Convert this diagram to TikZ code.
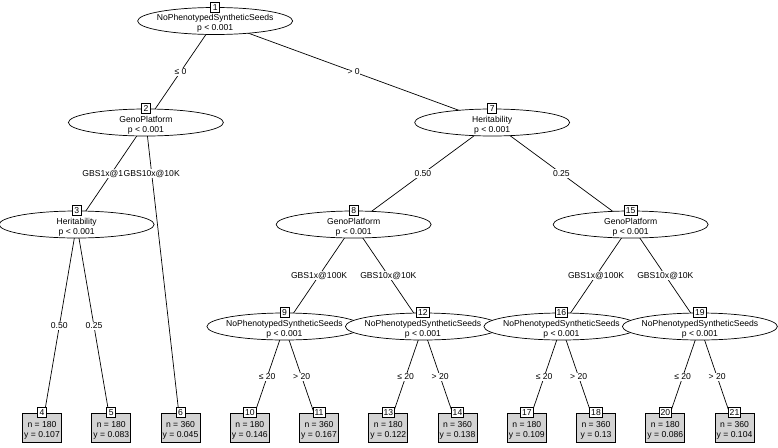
\documentclass[tikz,border=0pt]{standalone}
\usepackage{fontspec}
\setmainfont{Liberation Sans}
\usetikzlibrary{shapes.geometric,backgrounds}
\definecolor{termgray}{RGB}{211,211,211}
\begin{document}
\begin{tikzpicture}[x=1pt,y=-1pt,
  font=\fontsize{8.6}{10}\selectfont,
  ell/.style={draw, fill=white, ellipse, minimum width=155pt, minimum height=27pt, inner sep=0pt, line width=0.7pt},
  itxt/.style={align=center, inner sep=0pt},
  idb/.style={draw, fill=white, inner xsep=1.5pt, inner ysep=0.5pt, minimum width=9pt, minimum height=10pt, line width=0.7pt},
  term/.style={draw, fill=termgray, minimum width=39pt, minimum height=29pt, inner sep=0pt, line width=0.7pt},
  ttxt/.style={align=center, inner sep=0pt},
  elab/.style={fill=white, inner xsep=0pt, inner ysep=1pt},
  conn/.style={line width=0.7pt}
]
\path[use as bounding box] (0,0) rectangle (778,447);

% inner nodes
\node[ell] (n1) at (215.15,21) {};
\node[itxt] at ([yshift=-2.5pt]n1.center) {NoPhenotypedSyntheticSeeds\\p < 0.001};
\node[idb] at (n1.north) {1};

\node[ell] (n2) at (145.9,122.5) {};
\node[itxt] at ([yshift=-2.5pt]n2.center) {GenoPlatform\\p < 0.001};
\node[idb] at (n2.north) {2};

\node[ell] (n3) at (76.65,224.5) {};
\node[itxt] at ([yshift=-2.5pt]n3.center) {Heritability\\p < 0.001};
\node[idb] at (n3.north) {3};

\node[ell] (n7) at (492.15,122.5) {};
\node[itxt] at ([yshift=-2.5pt]n7.center) {Heritability\\p < 0.001};
\node[idb] at (n7.north) {7};

\node[ell] (n8) at (353.65,224.5) {};
\node[itxt] at ([yshift=-2.5pt]n8.center) {GenoPlatform\\p < 0.001};
\node[idb] at (n8.north) {8};

\node[ell] (n9) at (284.4,326.5) {};
\node[itxt] at ([yshift=-2.5pt]n9.center) {NoPhenotypedSyntheticSeeds\\p < 0.001};
\node[idb] at (n9.north) {9};

\node[ell] (n12) at (422.9,326.5) {};
\node[itxt] at ([yshift=-2.5pt]n12.center) {NoPhenotypedSyntheticSeeds\\p < 0.001};
\node[idb] at (n12.north) {12};

\node[ell] (n15) at (630.65,224.5) {};
\node[itxt] at ([yshift=-2.5pt]n15.center) {GenoPlatform\\p < 0.001};
\node[idb] at (n15.north) {15};

\node[ell] (n16) at (561.4,326.5) {};
\node[itxt] at ([yshift=-2.5pt]n16.center) {NoPhenotypedSyntheticSeeds\\p < 0.001};
\node[idb] at (n16.north) {16};

\node[ell] (n19) at (699.9,326.5) {};
\node[itxt] at ([yshift=-2.5pt]n19.center) {NoPhenotypedSyntheticSeeds\\p < 0.001};
\node[idb] at (n19.north) {19};

% terminal nodes
\foreach \id/\xx/\nn/\yy in {4/42.0/180/0.107, 5/111.3/180/0.083, 6/180.5/360/0.045,
  10/249.8/180/0.146, 11/319.0/360/0.167, 13/388.3/180/0.122, 14/457.5/360/0.138,
  17/526.8/180/0.109, 18/596.0/360/0.13, 20/665.3/180/0.086, 21/734.5/360/0.104}{
  \node[term] (t\id) at (\xx,427.5) {};
  \node[ttxt] at ([yshift=-2.5pt]t\id.center) {n = \nn\\y = \yy};
  \node[idb] at (t\id.north) {\id};
}

% connectors
\begin{scope}[on background layer]
\fill[white] (0,0) rectangle (778,447);
\draw[conn] (n1.center) -- node[elab]{≤ 0} (n2.center);
\draw[conn] (n1.center) -- node[elab]{> 0} (n7.center);
\draw[conn] (n2.center) -- node[elab, pos=0.168] (e26) {GBS10x@10K} (t6.center);
\draw[conn] (n2.center) -- (n3.center);
\node[elab, anchor=east] at (e26.west) {GBS1x@1};
\draw[conn] (n3.center) -- node[elab]{0.50} (t4.center);
\draw[conn] (n3.center) -- node[elab]{0.25} (t5.center);
\draw[conn] (n7.center) -- node[elab]{0.50} (n8.center);
\draw[conn] (n7.center) -- node[elab]{0.25} (n15.center);
\draw[conn] (n8.center) -- node[elab]{GBS1x@100K} (n9.center);
\draw[conn] (n8.center) -- node[elab]{GBS10x@10K} (n12.center);
\draw[conn] (n9.center) -- node[elab]{≤ 20} (t10.center);
\draw[conn] (n9.center) -- node[elab]{> 20} (t11.center);
\draw[conn] (n12.center) -- node[elab]{≤ 20} (t13.center);
\draw[conn] (n12.center) -- node[elab]{> 20} (t14.center);
\draw[conn] (n15.center) -- node[elab]{GBS1x@100K} (n16.center);
\draw[conn] (n15.center) -- node[elab]{GBS10x@10K} (n19.center);
\draw[conn] (n16.center) -- node[elab]{≤ 20} (t17.center);
\draw[conn] (n16.center) -- node[elab]{> 20} (t18.center);
\draw[conn] (n19.center) -- node[elab]{≤ 20} (t20.center);
\draw[conn] (n19.center) -- node[elab]{> 20} (t21.center);
\end{scope}
\end{tikzpicture}
\end{document}
